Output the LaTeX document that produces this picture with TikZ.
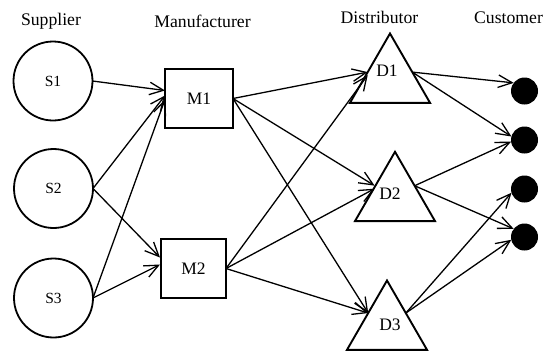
\documentclass[tikz,border=0pt]{standalone}
\usepackage{fontspec}
\setmainfont{Liberation Serif}
\usetikzlibrary{arrows.meta,shapes.geometric,calc}
\begin{document}
\begin{tikzpicture}[x=1pt,y=-1pt,
  hdr/.style={font=\fontsize{17.7}{20}\selectfont,anchor=base,inner sep=0pt},
  supnode/.style={circle,draw,line width=1.8pt,minimum size=79pt,inner sep=0pt,outer sep=0pt,font=\fontsize{15.5}{18}\selectfont},
  manbox/.style={rectangle,draw,line width=1.9pt,minimum height=59pt,inner sep=0pt,outer sep=0pt,font=\fontsize{17.5}{20}\selectfont},
  distri/.style={regular polygon,regular polygon sides=3,draw,line width=1.9pt,minimum size=92.4pt,inner sep=0pt,outer sep=0pt},
  dlabel/.style={font=\fontsize{17.5}{20}\selectfont,inner sep=0pt},
  cust/.style={circle,fill=black,minimum size=27pt,inner sep=0pt,outer sep=0pt},
  flow/.style={line width=1.3pt,-{Straight Barb[length=14pt,width=12.5pt]}}]
\useasboundingbox (0,0) rectangle (545,351);

% headers
\node[hdr] (hs) at (51,25) {Supplier};
\node[hdr] (hm) at (202.5,27) {Manufacturer};
\node[hdr] (hd) at (379.5,23) {Distributor};
\node[hdr] (hc) at (508.5,23) {Customer};

% suppliers
\node[supnode] (s1) at (53,81) {S1};
\node[supnode] (s2) at (53.5,188.5) {S2};
\node[supnode] (s3) at (53.5,298) {S3};

% manufacturers
\node[manbox,minimum width=68pt] (m1) at (199,98.5) {M1};
\node[manbox,minimum width=65pt] (m2) at (193.5,268.5) {M2};

% distributors
\node[distri] (d1) at (390,79.7) {};
\node[distri] (d2) at (395,198) {};
\node[distri] (d3) at (387,326.7) {};
\node[dlabel] (d1l) at (387,71) {D1};
\node[dlabel] (d2l) at (390,194) {D2};
\node[dlabel] (d3l) at (390,325) {D3};

\coordinate (d1w) at ($(d1.corner 1)!0.557!(d1.corner 2)$);
\coordinate (d1e) at ($(d1.corner 1)!0.557!(d1.corner 3)$);
\coordinate (d2w) at ($(d2.corner 1)!0.51!(d2.corner 2)$);
\coordinate (d2e) at ($(d2.corner 1)!0.49!(d2.corner 3)$);
\coordinate (d3w) at ($(d3.corner 1)!0.47!(d3.corner 2)$);
\coordinate (d3e) at ($(d3.corner 1)!0.47!(d3.corner 3)$);

% customers
\node[cust] (c1) at (524.5,91) {};
\node[cust] (c2) at (524.5,140) {};
\node[cust] (c3) at (524.5,189) {};
\node[cust] (c4) at (524.5,237) {};

% supplier -> manufacturer
\draw[flow] (s1.east) -- ([yshift=8pt]m1.west);
\draw[flow] (s2.east) -- ([yshift=3pt]m1.west);
\draw[flow] (s3.east) -- ([yshift=-1pt]m1.west);
\draw[flow] (s2.east) -- ([yshift=11pt,xshift=-1pt]m2.west);
\draw[flow] (s3.east) -- ([yshift=4pt,xshift=-1pt]m2.west);

% manufacturer -> distributor
\draw[flow] (m1.east) -- (d1w);
\draw[flow] (m1.east) -- ([yshift=1.5pt]d2w);
\draw[flow] (m1.east) -- (d3w);
\draw[flow] (m2.east) -- ([yshift=-3pt]d1w);
\draw[flow] (m2.east) -- ([yshift=-1.5pt]d2w);
\draw[flow] (m2.east) -- (d3w);

% distributor -> customer
\draw[flow] (d1e) -- (c1.143);
\draw[flow] (d1e) -- (c2.165);
\draw[flow] (d2e) -- (c2.187);
\draw[flow] (d2e) -- (c4.143);
\draw[flow] (d3e) -- (c3.196);
\draw[flow] (d3e) -- (c4.192);
\end{tikzpicture}
\end{document}
